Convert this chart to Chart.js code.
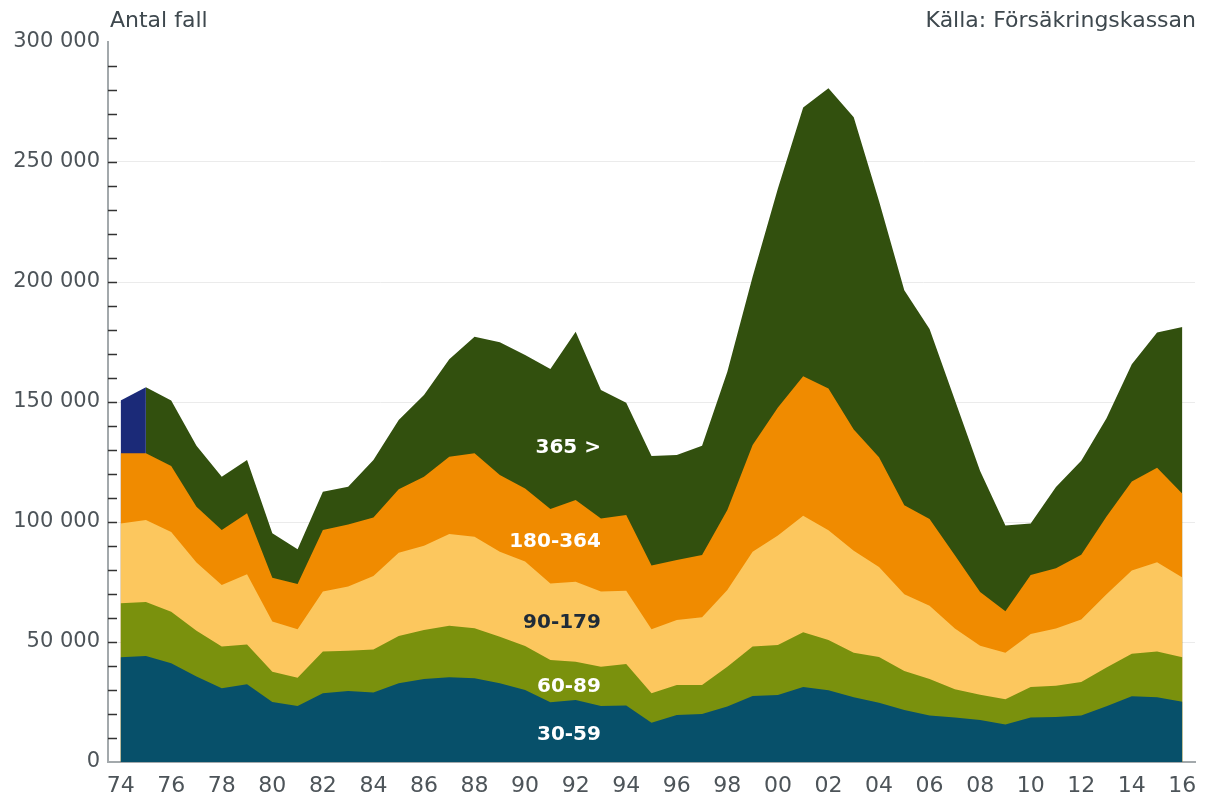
<!DOCTYPE html>
<html>
<head>
<meta charset="utf-8">
<script src="https://cdn.jsdelivr.net/npm/chart.js@4"></script>
<style>
  html, body { margin: 0; padding: 0; background: #fff; }
  #wrap { width: 1209px; height: 798px; }
</style>
</head>
<body>
<div id="wrap"><canvas id="chart"></canvas></div>
<script>
// years 1974-2016
const years = ['74','75','76','77','78','79','80','81','82','83','84','85','86','87','88','89',
  '90','91','92','93','94','95','96','97','98','99','00','01','02','03','04','05','06','07','08',
  '09','10','11','12','13','14','15','16'];

// antal fall per sjukfallslängd (dagar)
const d30_59 = [43600,44200,41100,35600,30700,32400,25000,23300,28600,29600,29000,32800,34600,35300,
  34900,32800,30000,24900,25800,23300,23500,16400,19600,20000,23100,27500,27900,31200,29900,27000,
  24700,21700,19400,18500,17500,15600,18500,18800,19400,23200,27400,27000,25100];
const d60_89 = [22500,22500,21500,19100,17400,16600,12600,11800,17400,16800,17900,19700,20400,21500,
  20800,19400,18300,17600,16000,16400,17300,12200,12500,12100,16600,20600,20800,22900,20900,18500,
  19100,16200,15200,11800,10500,10500,12700,13000,13900,16200,17700,19000,18500];
const d90_179 = [33300,34100,33200,28400,25700,29200,20900,20200,25000,26700,30600,34700,35100,38200,
  38200,35400,35200,31900,33300,31300,30600,26700,27100,28200,32000,39500,45700,48500,45800,42500,
  37500,32000,30500,25300,20400,19400,22100,23800,26100,30500,34700,37200,33300];
const d180_364 = [29200,27800,27500,23300,22900,25400,18300,18900,25700,25900,24400,26400,28800,32200,
  34700,32000,30500,31000,34100,30500,31500,26600,25000,26000,33300,44500,53300,58100,59000,50500,
  45700,37100,36200,30500,22400,17300,24600,25100,27000,32400,37100,39400,34900];
const d365 = [22000,27500,27300,25400,22200,22200,18500,14400,15900,15700,23900,28900,34000,40600,
  48600,55300,55600,58400,70100,53500,46800,45600,43700,45500,57600,70100,91300,112000,125100,130100,
  106700,89600,79100,64700,50500,35700,21500,33900,39100,40900,48800,56400,69500];

const yTicks = [0, 50000, 100000, 150000, 200000, 250000, 300000];

const seriesNames = ['30-59', '60-89', '90-179', '180-364', '365 >'];
const seriesColors = ['#07506a', '#7a910d', '#fcc75e', '#f08b00', '#32500e'];
const firstYearColor = '#1b2a78';
const labelColors = ['#ffffff', '#ffffff', '#1f2b38', '#ffffff', '#ffffff'];
const labelValues = [11500, 31300, 58000, 91700, 130800];

const FONT = "'DejaVu Sans', sans-serif";
const fmt = v => String(v).replace(/\B(?=(\d{3})+(?!\d))/g, ' ');

const seriesData = [d30_59, d60_89, d90_179, d180_364, d365];

const datasets = seriesData.map((d, i) => ({
  label: seriesNames[i],
  data: d,
  backgroundColor: seriesColors[i],
  borderWidth: 0,
  pointRadius: 0,
  tension: 0,
  fill: 'origin',
  segment: i === 4 ? {
    backgroundColor: ctx => ctx.p0DataIndex === 0 ? firstYearColor : undefined
  } : undefined
}));

const decor = {
  id: 'decor',
  afterDraw(chart) {
    const c = chart.ctx, y = chart.scales.y, x = chart.scales.x, a = chart.chartArea;
    c.save();
    // small ticks inside the y axis
    c.strokeStyle = '#333';
    c.lineWidth = 1.5;
    for (let v = 10000; v < 300000; v += 10000) {
      const py = Math.round(y.getPixelForValue(v)) + 0.5;
      c.beginPath();
      c.moveTo(a.left, py);
      c.lineTo(a.left + 9, py);
      c.stroke();
    }
    // titles
    c.font = '22px ' + FONT;
    c.fillStyle = '#3e484e';
    c.textBaseline = 'middle';
    c.textAlign = 'left';
    c.fillText('Antal fall', 110, 21);
    c.textAlign = 'right';
    c.fillText('Källa: Försäkringskassan', 1196, 21);
    // series labels inside areas
    c.font = 'bold 20px ' + FONT;
    const px = x.getPixelForValue(years.indexOf('93'));
    seriesNames.forEach((n, i) => {
      c.fillStyle = labelColors[i];
      c.fillText(n, px, y.getPixelForValue(labelValues[i]));
    });
    c.restore();
  }
};

new Chart(document.getElementById('chart'), {
  type: 'line',
  data: { labels: years, datasets: datasets },
  options: {
    responsive: true,
    maintainAspectRatio: false,
    animation: false,
    layout: { padding: { top: 42, right: 14, left: 0, bottom: 0 } },
    plugins: { legend: { display: false }, tooltip: { enabled: false } },
    scales: {
      x: {
        offset: true,
        z: 1,
        grid: { color: 'rgba(255,255,255,0.07)', drawTicks: false },
        border: { color: '#a3a9ac', width: 2 },
        afterFit: s => { s.height = 36; },
        ticks: {
          autoSkip: false,
          maxRotation: 0,
          padding: 11,
          color: '#4d5459',
          font: { family: FONT, size: 22 },
          callback: function (v, i) { return i % 2 === 0 ? this.getLabelForValue(v) : ''; }
        }
      },
      y: {
        stacked: true,
        min: 0,
        max: 300000,
        afterFit: s => { s.width = 108; },
        afterBuildTicks: s => { s.ticks = yTicks.map(v => ({ value: v })); },
        grid: {
          drawTicks: false,
          color: ctx => (ctx.tick && (ctx.tick.value === 0 || ctx.tick.value === 300000)) ? 'rgba(0,0,0,0)' : '#ebebeb'
        },
        border: { color: '#a3a9ac', width: 2 },
        ticks: {
          padding: 8,
          color: '#4d5459',
          font: { family: FONT, size: 21 },
          callback: v => fmt(v)
        }
      }
    }
  },
  plugins: [decor]
});
</script>
</body>
</html>
